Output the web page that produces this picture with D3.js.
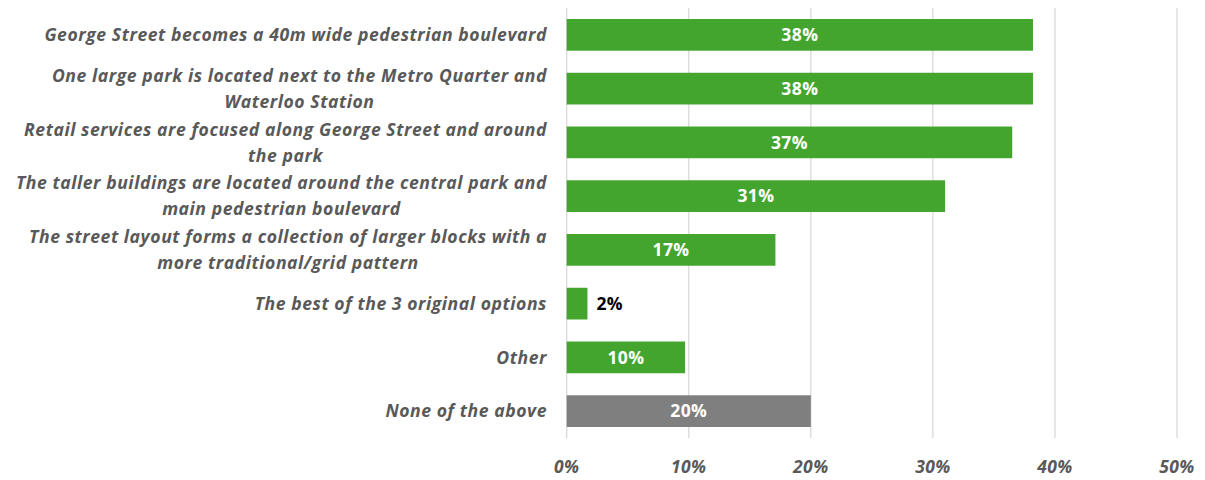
<!DOCTYPE html>
<html><head><meta charset="utf-8">
<script src="https://cdn.jsdelivr.net/npm/d3@7"></script>
<style>body{margin:0;background:#fff}svg{display:block}</style>
</head><body>
<svg id="c" width="1205" height="480"></svg>
<script>
const categories = [
  "George Street becomes a 40m wide pedestrian boulevard",
  "One large park is located next to the Metro Quarter and|Waterloo Station",
  "Retail services are focused along George Street and around|the park",
  "The taller buildings are located around the central park and|main pedestrian boulevard",
  "The street layout forms a collection of larger blocks with a|more traditional/grid pattern",
  "The best of the 3 original options",
  "Other",
  "None of the above"
];
const values = [38.2, 38.2, 36.5, 31.0, 17.1, 1.7, 9.7, 20.0];
const valueLabels = ["38%","38%","37%","31%","17%","2%","10%","20%"];
const barColors = ["#43a52e","#43a52e","#43a52e","#43a52e","#43a52e","#43a52e","#43a52e","#7f7f7f"];
const tickValues = [0,10,20,30,40,50];
const tickLabels = ["0%","10%","20%","30%","40%","50%"];

const svg = d3.select("#c");
const font = "'Open Sans', sans-serif";
const x = d3.scaleLinear().domain([0,50]).range([566.7, 1177]);
const y = d3.scaleBand().domain(d3.range(categories.length)).range([8, 438]).paddingInner(0.41).paddingOuter(0.205);

svg.append("g").selectAll("line").data(tickValues).join("line")
  .attr("x1", d=>x(d)).attr("x2", d=>x(d)).attr("y1", 8).attr("y2", 438)
  .attr("stroke", "#d9d9d9").attr("stroke-width", 1.3);

svg.append("g").selectAll("rect").data(values).join("rect")
  .attr("x", x(0)).attr("y", (d,i)=>y(i)).attr("width", d=>x(d)-x(0)).attr("height", y.bandwidth())
  .attr("fill", (d,i)=>barColors[i]);

svg.append("g").selectAll("text").data(values).join("text")
  .attr("x", (d,i)=> d < 5 ? x(d)+9 : (x(0)+x(d))/2)
  .attr("y", (d,i)=>y(i)+y.bandwidth()/2)
  .attr("dy", "0.36em")
  .attr("text-anchor", d=> d < 5 ? "start" : "middle")
  .attr("fill", d=> d < 5 ? "#000" : "#fff")
  .attr("font-family", font).attr("font-weight", "bold").attr("font-size", 17.5)
  .attr("letter-spacing", 0.4)
  .text((d,i)=>valueLabels[i]);

const lab = svg.append("g");
categories.forEach((c,i)=>{
  const lines = c.split("|");
  const cy = y(i)+y.bandwidth()/2;
  const lh = 26;
  const g = lab.append("g");
  const ts = lines.map((l,k)=> g.append("text")
    .attr("y", cy + (k - (lines.length-1)/2)*lh)
    .attr("dy","0.36em")
    .attr("text-anchor","middle")
    .attr("fill","#595959")
    .attr("font-family", font).attr("font-weight","bold").attr("font-style","italic").attr("font-size", 17.6)
    .attr("letter-spacing", 0.55)
    .text(l));
  const maxW = d3.max(ts, t=>t.node().getComputedTextLength());
  ts.forEach(t=>t.attr("x", 547 - maxW/2));
});

svg.append("g").selectAll("text").data(tickValues).join("text")
  .attr("x", d=>x(d)).attr("y", 467).attr("dy","0.36em")
  .attr("text-anchor","middle").attr("fill","#595959")
  .attr("font-family", font).attr("font-weight","bold").attr("font-style","italic").attr("font-size", 17.5)
  .attr("letter-spacing", 0.4)
  .text((d,i)=>tickLabels[i]);
</script>
</body></html>
